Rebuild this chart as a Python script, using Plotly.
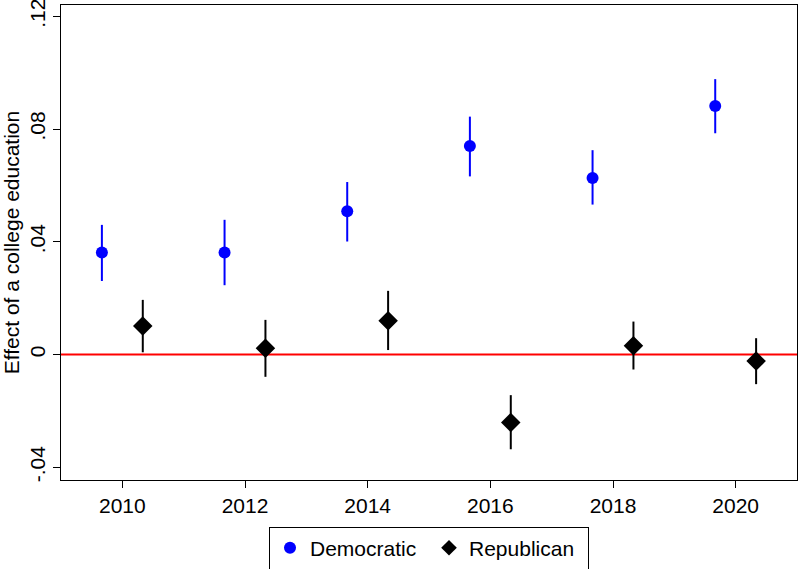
import plotly.graph_objects as go

years = [2010, 2012, 2014, 2016, 2018, 2020]
dem_est = [0.0362, 0.0362, 0.0508, 0.0740, 0.0626, 0.0882]
dem_hi = [0.0460, 0.0478, 0.0612, 0.0844, 0.0725, 0.0977]
dem_lo = [0.0261, 0.0246, 0.0401, 0.0632, 0.0532, 0.0785]
rep_est = [0.0101, 0.0022, 0.0120, -0.0241, 0.0031, -0.0023]
rep_hi = [0.0194, 0.0123, 0.0226, -0.0144, 0.0117, 0.0058]
rep_lo = [0.0008, -0.0079, 0.0016, -0.0336, -0.0053, -0.0105]
offset = 1/3
ytick_vals = [-0.04, 0, 0.04, 0.08, 0.12]
ytick_text = ["-.04", "0", ".04", ".08", ".12"]
xtick_vals = [2010, 2012, 2014, 2016, 2018, 2020]

FONT = "Liberation Sans, Arial, Helvetica, sans-serif"

fig = go.Figure()
fig.add_trace(go.Scatter(
    x=[y - offset for y in years], y=dem_est, mode="markers", name="Democratic",
    marker=dict(symbol="circle", size=12, color="#0000FF"),
    error_y=dict(type="data", symmetric=False,
                 array=[h - e for h, e in zip(dem_hi, dem_est)],
                 arrayminus=[e - l for e, l in zip(dem_est, dem_lo)],
                 color="#0000FF", thickness=2, width=0),
))
fig.add_trace(go.Scatter(
    x=[y + offset for y in years], y=rep_est, mode="markers", name="Republican",
    marker=dict(symbol="diamond", size=15, color="black"),
    error_y=dict(type="data", symmetric=False,
                 array=[h - e for h, e in zip(rep_hi, rep_est)],
                 arrayminus=[e - l for e, l in zip(rep_est, rep_lo)],
                 color="black", thickness=2, width=0),
))
fig.add_shape(type="line", xref="paper", x0=0, x1=1, yref="y", y0=0, y1=0,
              line=dict(color="#FF0000", width=2), layer="below")

fig.update_layout(
    width=799, height=569,
    margin=dict(l=61, r=2, t=5, b=89, autoexpand=False),
    paper_bgcolor="white", plot_bgcolor="white",
    font=dict(family=FONT, size=20, color="black"),
    showlegend=True,
    legend=dict(orientation="h", x=0.5, xanchor="center", y=-0.098, yanchor="top",
                bordercolor="black", borderwidth=1, font=dict(family=FONT, size=21),
                itemsizing="constant", itemwidth=30, entrywidth=114,
                entrywidthmode="pixels", tracegroupgap=0),
    xaxis=dict(range=[2009, 2021], tickvals=xtick_vals, ticks="outside", ticklen=7,
               tickcolor="black", tickfont=dict(family=FONT, size=21, color="black"),
               showgrid=False, zeroline=False, showline=True, automargin=False,
               linecolor="black", linewidth=1, mirror=True),
    yaxis=dict(range=[-0.0445, 0.124], tickvals=ytick_vals, ticktext=ytick_text,
               tickangle=-90, ticks="outside", ticklen=7, tickcolor="black",
               tickfont=dict(family=FONT, size=21, color="black"),
               ticklabeloverflow="allow",
               showgrid=False, zeroline=False, showline=True, linecolor="black",
               linewidth=1, mirror=True, automargin=False,
               title=dict(text="Effect of a college education", standoff=2,
                          font=dict(family=FONT, size=21, color="black"))),
)

fig.write_html("out.html")
